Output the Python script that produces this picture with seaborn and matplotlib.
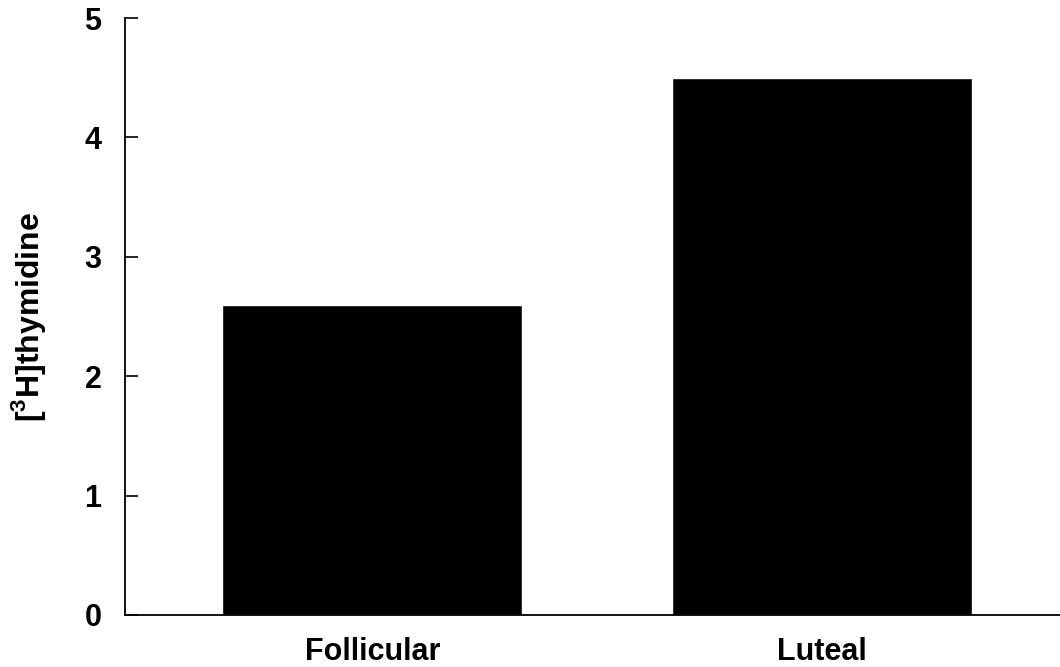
import matplotlib
matplotlib.use('Agg')
import matplotlib.pyplot as plt
import seaborn as sns
import pandas as pd

phases = ['Follicular', 'Luteal']
thymidine = [2.6, 4.5]
y_ticks = [0, 1, 2, 3, 4, 5]

sns.set_style('white')
plt.rcParams['font.family'] = ['Liberation Sans', 'DejaVu Sans']
plt.rcParams['text.color'] = 'black'
plt.rcParams['axes.labelcolor'] = 'black'
plt.rcParams['xtick.color'] = 'black'
plt.rcParams['ytick.color'] = 'black'
plt.rcParams['mathtext.fontset'] = 'custom'
plt.rcParams['mathtext.rm'] = 'Liberation Sans'
plt.rcParams['mathtext.bf'] = 'Liberation Sans:bold'

df = pd.DataFrame({'phase': phases, 'value': thymidine})

fig = plt.figure(figsize=(10.6, 6.67), dpi=100)
ax = fig.add_axes([0.118, 0.078, 0.882, 0.895])

sns.barplot(data=df, x='phase', y='value', color='black', width=0.667,
            saturation=1, ax=ax)

ax.set_ylim(0, 5)
ax.set_xlim(-0.55, 1.53)
ax.set_yticks(y_ticks)
ax.set_yticklabels([str(t) for t in y_ticks], fontsize=22, fontweight='bold')
ax.set_xticks(range(len(phases)))
ax.set_xticklabels(phases, fontsize=22, fontweight='bold')
ax.tick_params(axis='y', direction='in', length=9, width=1.2, pad=17, left=True)
ax.tick_params(axis='x', length=0, pad=16)
ax.set_xlabel('')
ax.set_ylabel(r'[$^{\mathbf{3}}$H]thymidine', fontsize=23, fontweight='bold', labelpad=26)

sns.despine(ax=ax, top=True, right=True)
for side in ['left', 'bottom']:
    ax.spines[side].set_color('black')
    ax.spines[side].set_linewidth(1.3)

fig.savefig('out.png', dpi=100)
